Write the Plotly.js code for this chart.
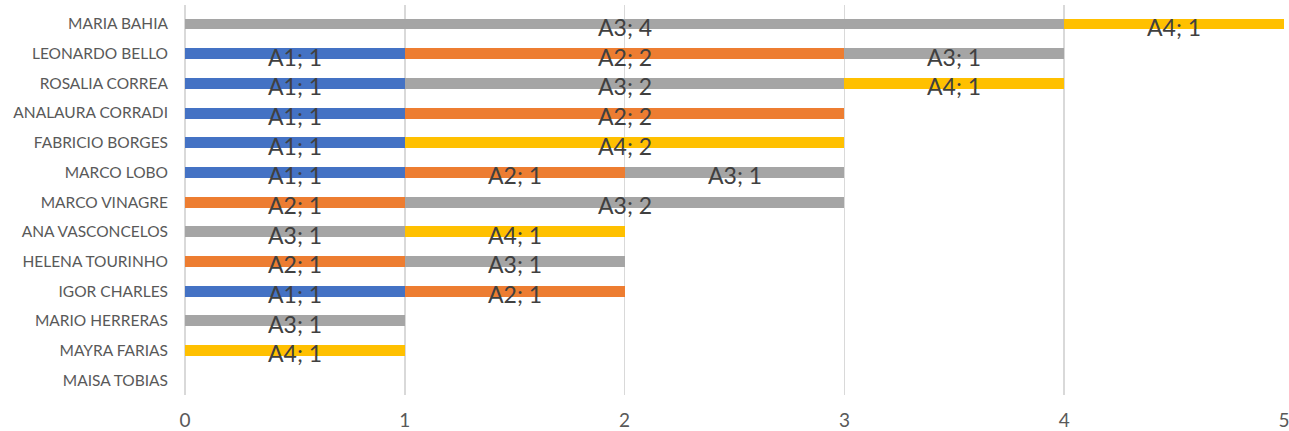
<!DOCTYPE html>
<html>
<head>
<meta charset="utf-8">
<script src="https://cdn.plot.ly/plotly-3.0.1.min.js"></script>
<style>html,body{margin:0;padding:0;background:#fff;}#chart{width:1289px;height:431px;}</style>
</head>
<body>
<div id="chart"></div>
<script>
const categories = ["MARIA BAHIA","LEONARDO BELLO","ROSALIA CORREA","ANALAURA CORRADI","FABRICIO BORGES","MARCO LOBO","MARCO VINAGRE","ANA VASCONCELOS","HELENA TOURINHO","IGOR CHARLES","MARIO HERRERAS","MAYRA FARIAS","MAISA TOBIAS"];
const seriesNames = ["A1","A2","A3","A4"];
const A1 = [0,1,1,1,1,1,0,0,0,1,0,0,0];
const A2 = [0,2,0,2,0,1,1,0,1,1,0,0,0];
const A3 = [4,1,2,0,0,1,2,1,1,0,1,0,0];
const A4 = [1,0,1,0,2,0,0,1,0,0,0,1,0];
const colors = ["#4472C4","#ED7D31","#A5A5A5","#FFC000"];
const values = [A1,A2,A3,A4];

const traces = values.map((vals, i) => ({
  type: 'bar',
  orientation: 'h',
  name: seriesNames[i],
  y: categories,
  x: vals.map(v => v === 0 ? null : v),
  marker: {color: colors[i]},
  textposition: 'none',
  hoverinfo: 'x+y+name'
}));

// data labels as annotations derived from the data
const annotations = [];
categories.forEach((cat, ci) => {
  let cum = 0;
  values.forEach((vals, si) => {
    const v = vals[ci];
    if (v > 0) {
      annotations.push({
        x: cum + v / 2, y: cat, xref: 'x', yref: 'y',
        text: seriesNames[si] + '; ' + v,
        showarrow: false, yshift: -3,
        font: {family: 'Lato, "Open Sans", sans-serif', size: 23, color: '#404040'}
      });
      cum += v;
    }
  });
});

const layout = {
  width: 1289, height: 431,
  margin: {l: 185, r: 5, t: 5, b: 36},
  barmode: 'stack',
  bargap: 0.63,
  showlegend: false,
  paper_bgcolor: '#fff', plot_bgcolor: '#fff',
  xaxis: {
    range: [0, 5], dtick: 1, showgrid: true, gridcolor: '#D9D9D9', gridwidth: 1.5,
    zeroline: true, zerolinecolor: '#D9D9D9', zerolinewidth: 1.5,
    ticks: '', ticklabelstandoff: 12, ticklabeloverflow: 'allow',
    tickfont: {family: 'Lato, "Open Sans", sans-serif', size: 19, color: '#595959'},
    fixedrange: true
  },
  yaxis: {
    categoryorder: 'array', categoryarray: categories, autorange: 'reversed',
    showgrid: false, zeroline: false, ticks: '', ticklabelstandoff: 16,
    tickfont: {family: 'Lato, "Open Sans", sans-serif', size: 15.5, color: '#595959'},
    fixedrange: true
  },
  annotations: annotations
};

Plotly.newPlot('chart', traces, layout, {displayModeBar: false, staticPlot: true});
</script>
</body>
</html>
